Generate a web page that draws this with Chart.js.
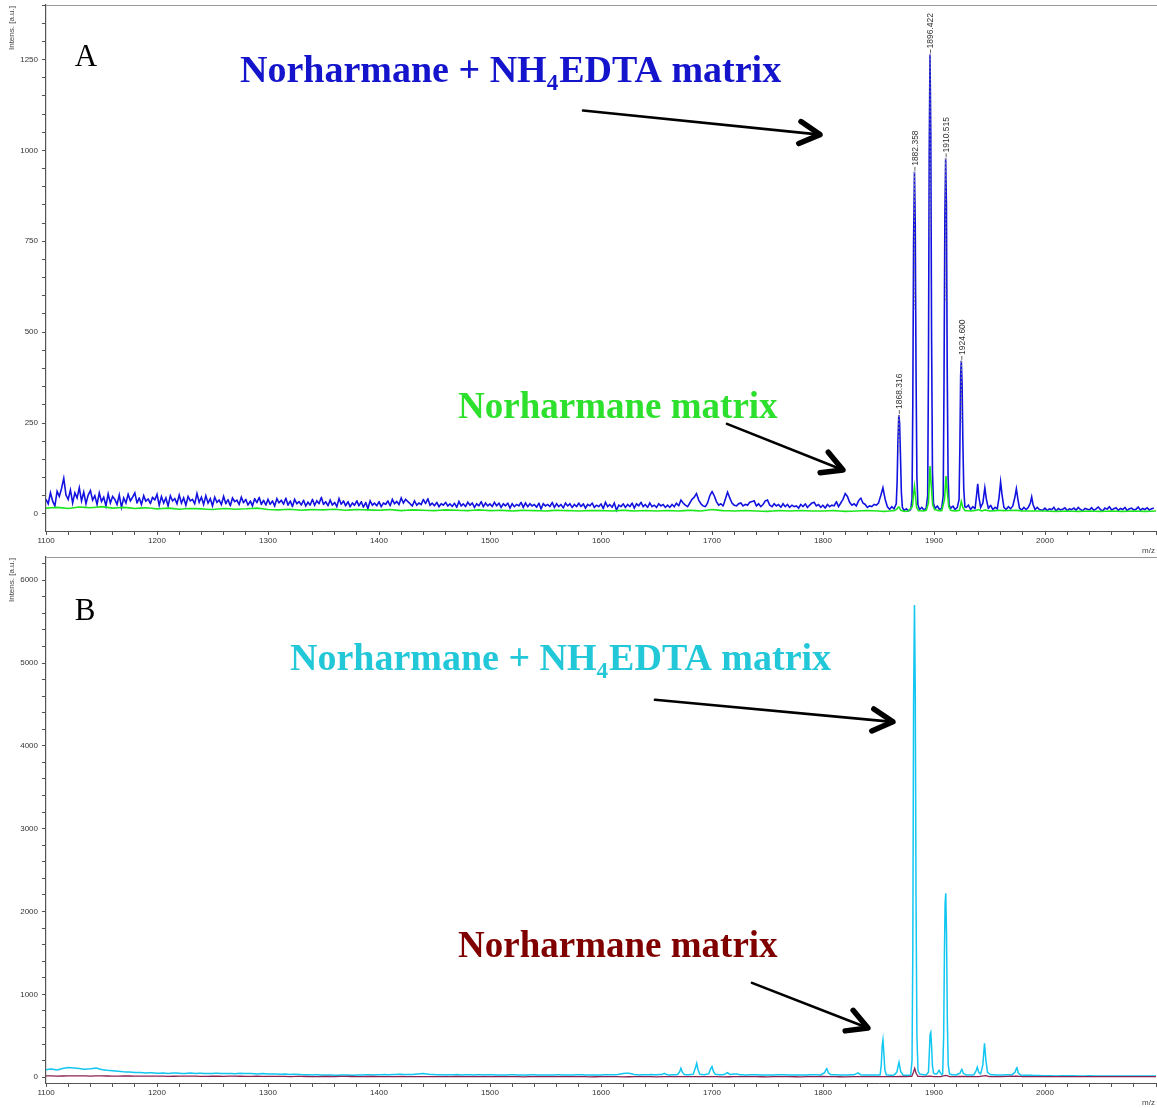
<!DOCTYPE html>
<html>
<head>
<meta charset="utf-8">
<script src="https://cdn.jsdelivr.net/npm/chart.js@4.4.1/dist/chart.umd.min.js"></script>
<style>
  html, body { margin:0; padding:0; background:#fff; }
  #wrapA { position:absolute; left:0; top:0;   width:1157px; height:555px; }
  #wrapB { position:absolute; left:0; top:555px; width:1157px; height:553px; }
</style>
</head>
<body>
<div id="wrapA"><canvas id="chartA"></canvas></div>
<div id="wrapB"><canvas id="chartB"></canvas></div>
<script>
// Espectros MALDI: panel A (norharmano + NH4EDTA vs norharmano), panel B (idem, otra muestra).
// Valores leídos a ojo del gráfico original.

// ---- Panel A, traza azul (Norharmane + NH4EDTA) ----
// línea base ruidosa 1100..1858, paso 2 (20 valores por fila = 40 m/z)
const blueBaseStart = 1100, blueBaseStep = 2;
const blueBase = [
  40,28,58,35,22,62,48,70,98,52,40,66,30,58,44,72,36,60,28,52,
  64,38,50,26,58,34,46,22,55,30,48,40,26,52,18,44,30,54,36,46,
  58,30,44,26,50,34,42,28,46,38,54,24,48,30,44,22,50,36,42,28,
  52,30,44,24,48,36,40,28,56,32,46,26,50,30,42,22,46,32,38,26,
  48,28,40,22,44,34,38,26,46,30,40,24,36,22,42,30,46,26,38,24,
  40,26,36,22,42,30,38,26,44,24,36,20,40,28,34,24,38,22,32,24,
  40,24,36,28,46,26,34,22,38,24,32,20,42,26,36,22,34,20,30,24,
  36,22,34,18,32,14,36,24,30,22,34,20,30,26,36,22,40,28,34,26,
  44,30,40,34,28,22,36,24,30,26,40,28,42,24,30,22,32,20,28,24,
  32,22,28,20,30,18,34,22,28,20,32,24,30,18,28,22,34,20,30,22,
  28,20,32,22,30,18,28,22,30,16,28,20,26,22,32,18,30,20,28,22,
  26,18,30,14,28,22,26,20,32,18,28,20,26,16,30,22,28,18,26,20,
  30,20,28,16,26,22,30,18,24,20,28,14,32,20,26,18,30,10,24,20,
  28,18,26,20,30,16,28,22,32,20,26,18,30,20,24,18,28,22,26,18,
  24,18,26,20,30,22,38,30,24,20,30,40,46,56,38,28,22,20,30,50,
  62,50,34,24,28,22,40,60,44,30,24,22,28,30,22,26,24,32,34,36,
  22,28,20,26,36,38,24,20,28,22,26,18,28,20,26,18,24,20,22,16,
  26,20,28,18,24,30,32,22,26,18,24,16,26,20,24,22,34,20,30,40,
  56,48,32,24,28,22,36,44,30,26,18,22,20,26,24,30,50,72,40,20
];
// zona de picos (m/z, intensidad)
const bluePeaks = [
  [1860,12],[1862,20],[1864,14],[1866,28],[1866.8,90],[1867.5,200],[1868.3,272],[1869,250],[1869.8,160],[1870.6,60],
  [1871.5,18],[1873,10],[1875,14],[1877,8],[1879,12],[1880.2,40],[1880.9,300],[1881.6,750],[1882.4,941],[1883.1,800],
  [1883.8,400],[1884.6,100],[1885.5,25],[1887,12],[1889,18],[1891,10],[1893,16],[1894.3,50],[1895,400],[1895.7,1000],
  [1896.4,1264],[1897.1,1050],[1897.8,500],[1898.6,120],[1899.5,30],[1901,14],[1903,22],[1905,12],[1907,16],[1908.3,50],
  [1909,350],[1909.8,820],[1910.5,978],[1911.2,850],[1911.9,400],[1912.7,100],[1913.6,25],[1915,15],[1917,22],[1919,12],
  [1921,18],[1922.6,40],[1923.3,180],[1924,380],[1924.6,421],[1925.3,360],[1926,200],[1926.8,70],[1927.8,20],[1929,18],
  [1931,24],[1933,12],[1935,20],[1937,14],[1938.3,50],[1939.4,83],[1940.5,45],[1942,18],[1944,30],[1945.8,72],
  [1947.2,40],[1949,15],[1951,24],[1953,12],[1955,18],[1957,14],[1958.6,45],[1960,88],[1961.4,50],[1963,18],
  [1965,12],[1967,20],[1969,14],[1971,22],[1972.8,45],[1974.2,69],[1975.6,40],[1977,16],[1979,10],[1981,18],
  [1983,12],[1985,18],[1986.8,30],[1988,47],[1989.2,26],[1991,12],[1993,18],[1995,12]
];
const blueTailStart = 1998, blueTailStep = 2;
const blueTail = [
  10,16,9,14,12,18,8,15,11,13,17,9,14,12,16,10,18,12,9,15,13,11,17,10,14,19,
  12,8,16,13,20,11,14,17,10,15,12,18,9,14,16,11,13,19,10,15,12,17,11,14,16
];

// ---- Panel A, traza verde (Norharmane) ----
const greenBaseStart = 1100, greenBaseStep = 10;
const greenBase = [
  16,18,15,19,17,20,16,18,15,17,
  14,16,13,15,14,12,15,13,14,16,
  12,11,13,10,12,11,13,10,12,11,
  10,12,9,11,10,9,11,10,9,11,
  9,10,8,10,9,8,10,9,8,9,
  9,8,10,8,9,8,9,8,10,8,
  12,9,8,9,8,7,9,8,9,8,
  8,9,7,8,9,8
];
const greenPeaks = [
  [1855,7],[1860,8],[1864,9],[1866,12],[1868.3,20],[1870,10],[1873,7],[1877,8],[1880.5,20],[1881.6,55],
  [1882.4,76],[1883.3,50],[1884.3,18],[1886,9],[1890,8],[1893,10],[1895,30],[1896.4,132],[1897.5,80],[1898.8,25],
  [1900.5,12],[1904,9],[1907,9],[1909.5,40],[1910.8,104],[1912,60],[1913.3,20],[1915,10],[1919,8],[1923,10],
  [1924.6,34],[1926,18],[1928,9],[1933,8],[1938,10],[1940,12],[1943,8],[1946,11],[1950,8],[1960,10],
  [1962,9],[1974,10],[1980,8],[1990,8]
];
const greenTailStart = 2000, greenTailStep = 10;
const greenTail = [8,7,8,7,8,7,8,7,8,7,8];

// etiquetas de picos (panel A)
const peakMzA     = [1868.316, 1882.358, 1896.422, 1910.515, 1924.600];
const peakHeightA = [272, 941, 1264, 978, 421];

// ---- Panel B, traza cian (Norharmane + NH4EDTA) ----
const cyanBaseStart = 1100, cyanBaseStep = 5;
const cyanBase = [
  90,100,86,104,118,112,104,96,102,110,
  92,84,78,72,66,62,58,56,52,54,
  48,50,46,52,48,44,50,46,48,44,
  46,48,44,46,42,48,44,46,40,44,
  38,40,36,38,34,36,32,30,28,30,
  26,28,24,26,28,24,26,28,30,28,
  30,32,30,34,36,32,34,40,44,36,
  32,30,28,30,32,28,30,28,30,28,
  30,28,26,28,30,28,26,28,30,26,
  28,26,30,28,26,28,30,28,26,28,
  28,30,30,32,46,48,34,28,30,32,
  30
];
const cyanPeaks = [
  [1655,34],[1657,46],[1659,32],[1662,28],[1666,30],[1669,32],[1671,70],[1672,108],[1673.3,60],[1675,32],
  [1679,30],[1683,34],[1685,110],[1686.2,168],[1687.4,90],[1689,36],[1693,30],[1697,40],[1698.7,100],[1700,128],
  [1701.3,70],[1703,34],[1707,30],[1711,32],[1713.8,56],[1716,34],[1720,38],[1722,40],[1725,30],[1730,28],
  [1740,30],[1750,26],[1760,30],[1770,28],[1780,26],[1790,30],[1798,28],[1801.5,55],[1803.3,108],[1805,50],
  [1807,30],[1815,28],[1822,28],[1828,30],[1831.5,52],[1834,30],[1840,26],[1845,28],[1849,26],[1851.5,30],
  [1852.5,150],[1853.3,380],[1854,450],[1854.8,300],[1855.7,90],[1857,30],[1860,24],[1864,26],[1866.5,60],[1868.5,180],
  [1870,70],[1872,26],[1876,24],[1879,26],[1880.2,200],[1880.9,1500],[1881.6,4500],[1882.4,5700],[1883.1,4700],[1883.8,2200],
  [1884.6,500],[1885.6,80],[1887,40],[1890,30],[1893,28],[1895,60],[1895.8,300],[1896.5,520],[1897.1,543],[1897.8,380],
  [1898.6,140],[1899.6,50],[1901,38],[1902.5,40],[1903.5,60],[1904.5,88],[1905.8,50],[1907,30],[1907.8,40],[1908.7,500],
  [1909.4,1500],[1910,2100],[1910.6,2220],[1911.3,1700],[1912,700],[1912.8,150],[1914,40],[1916,30],[1920,28],[1923.5,50],
  [1925,100],[1926.5,45],[1929,28],[1933,26],[1936,30],[1938,80],[1939,121],[1940.3,60],[1942,40],[1944,150],
  [1945.5,410],[1946.8,200],[1948.2,60],[1951,30],[1955,28],[1960,26],[1965,30],[1970,28],[1973,60],[1974.6,121],
  [1976,50],[1978,26],[1985,24],[1990,22],[1995,20]
];
const cyanTailStart = 2000, cyanTailStep = 10;
const cyanTail = [18,16,18,15,17,15,16,14,16,15,14];

// ---- Panel B, traza granate (Norharmane) ----
const maroonBaseStart = 1100, maroonBaseStep = 10;
const maroonBase = [
  16,14,15,17,14,16,13,15,14,12,
  13,11,12,14,10,12,11,13,10,12,
  9,11,8,10,7,9,8,10,7,9,
  8,6,9,7,8,6,7,9,6,8,
  7,6,8,5,7,6,8,6,7,5,
  6,7,5,6,8,5,7,6,8,6,
  7,5,6,8,6,5,7,6,5,7,
  9,6,5,7,6,8,7,9
];
const maroonPeaks = [
  [1876,8],[1880,10],[1881.5,60],[1882.6,108],[1883.8,50],[1885.5,10],[1890,8],[1896.5,14],[1900,7],[1906,8],
  [1910.8,22],[1914,8],[1920,7],[1925,10],[1930,7],[1940,8],[1946.5,18],[1950,7],[1960,8],[1974.5,12],
  [1980,7],[1990,8]
];
const maroonTailStart = 2000, maroonTailStep = 10;
const maroonTail = [7,6,8,7,6,7,8,6,7,6,7];

// ---- ejes ----
const xMin = 1100, xMax = 2100, xMinorStep = 20, xMajorStep = 100;
const yA = {min:-47, max:1400, minor:50, major:250};
const yB = {min:-70, max:6280, minor:200, major:1000};

function series(start, step, vals, peaks, tStart, tStep, tail){
  const pts = vals.map((v,i)=>({x:start+i*step, y:v}));
  peaks.forEach(p=>pts.push({x:p[0], y:p[1]}));
  tail.forEach((v,i)=>pts.push({x:tStart+i*tStep, y:v}));
  return pts;
}

function drawArrow(ctx, x1, y1, x2, y2){
  ctx.strokeStyle = '#000'; ctx.lineCap = 'round';
  ctx.lineWidth = 2.6;
  ctx.beginPath(); ctx.moveTo(x1,y1); ctx.lineTo(x2,y2); ctx.stroke();
  const a = Math.atan2(y2-y1, x2-x1), L = 23, w = 0.5;
  ctx.lineWidth = 5.5; ctx.lineJoin = 'round';
  ctx.beginPath();
  ctx.moveTo(x2-L*Math.cos(a-w), y2-L*Math.sin(a-w));
  ctx.lineTo(x2, y2);
  ctx.lineTo(x2-L*Math.cos(a+w), y2-L*Math.sin(a+w));
  ctx.stroke();
}

function drawParts(ctx, x0, y0, color, size, parts){
  ctx.fillStyle = color; ctx.textAlign = 'left'; ctx.textBaseline = 'alphabetic';
  let x = x0;
  parts.forEach(p=>{
    ctx.font = p.sub ? 'bold '+Math.round(size*0.6)+'px "Liberation Serif"' : 'bold '+size+'px "Liberation Serif"';
    ctx.fillText(p.t, x, y0 + (p.sub ? 8 : 0));
    x += ctx.measureText(p.t).width + (p.sub ? 1 : 0);
  });
}

const annotPlugin = {
  id: 'annot',
  afterDraw(chart, args, o){
    const {ctx, chartArea:ca, scales:{x, y}} = chart;
    ctx.save();
    // borde superior gris
    ctx.strokeStyle = '#9a9a9a'; ctx.lineWidth = 1.2;
    ctx.beginPath(); ctx.moveTo(ca.left, ca.top+0.5); ctx.lineTo(ca.right+1, ca.top+0.5); ctx.stroke();
    // título del eje y (arriba a la izquierda)
    ctx.save();
    ctx.translate(12, ca.top+1); ctx.rotate(-Math.PI/2);
    ctx.font = '8px "Liberation Sans"'; ctx.fillStyle = '#444';
    ctx.textAlign = 'right'; ctx.textBaseline = 'middle';
    ctx.fillText('Intens. [a.u.]', 0, 0);
    ctx.restore();
    // m/z abajo a la derecha
    ctx.font = '8px "Liberation Sans"'; ctx.fillStyle = '#444';
    ctx.textAlign = 'right'; ctx.textBaseline = 'middle';
    ctx.fillText('m/z', ca.right-1, ca.bottom+20);
    // letra del panel
    ctx.font = '31px "Liberation Serif"'; ctx.fillStyle = '#000';
    ctx.textAlign = 'left'; ctx.textBaseline = 'alphabetic';
    ctx.fillText(o.letter.t, x.getPixelForValue(o.letter.x), y.getPixelForValue(o.letter.y));
    // etiquetas de picos
    (o.peaks||[]).forEach(p=>{
      const px = x.getPixelForValue(p.mz), py = y.getPixelForValue(p.h);
      ctx.setLineDash([2,2]); ctx.strokeStyle = '#8c8c8c'; ctx.lineWidth = 1;
      ctx.beginPath(); ctx.moveTo(px, py); ctx.lineTo(px, y.getPixelForValue(p.h*0.6)); ctx.stroke();
      ctx.setLineDash([]); ctx.strokeStyle = '#666';
      ctx.beginPath(); ctx.moveTo(px+0.5, py-1); ctx.lineTo(px+0.5, py-5); ctx.stroke();
      ctx.save();
      ctx.translate(px+1, py-6); ctx.rotate(-Math.PI/2);
      ctx.font = '8.5px "Liberation Sans"'; ctx.fillStyle = '#333';
      ctx.textAlign = 'left'; ctx.textBaseline = 'middle';
      ctx.fillText(p.mz.toFixed(3), 0, 0);
      ctx.restore();
    });
    // textos
    o.texts.forEach(t=>drawParts(ctx, x.getPixelForValue(t.x), y.getPixelForValue(t.y), t.color, t.size, t.parts));
    // flechas
    o.arrows.forEach(a=>drawArrow(ctx, x.getPixelForValue(a[0]), y.getPixelForValue(a[1]),
                                       x.getPixelForValue(a[2]), y.getPixelForValue(a[3])));
    ctx.restore();
  }
};

function makeChart(id, datasets, yr, annot, padTop, xH){
  const tickFont = {family:'Liberation Sans', size:8};
  return new Chart(document.getElementById(id).getContext('2d'), {
    type:'line',
    data:{datasets},
    options:{
      responsive:true, maintainAspectRatio:false, animation:false,
      layout:{padding:{top:padTop, right:1, left:0, bottom:0}},
      // tension mínima: evita el "fast path" de Chart.js que dibuja columnas verticales en los picos
      elements:{point:{radius:0}, line:{tension:0.0001, capBezierPoints:true}},
      plugins:{legend:{display:false}, tooltip:{enabled:false}, annot},
      scales:{
        x:{type:'linear', min:xMin, max:xMax,
          afterBuildTicks:s=>{ const t=[]; for(let v=xMin; v<=xMax; v+=xMinorStep) t.push({value:v}); s.ticks=t; },
          afterFit:s=>{ s.height = xH; s.paddingLeft = 0; s.paddingRight = 0; },
          grid:{drawOnChartArea:false, drawTicks:true, tickLength:4, color:'#555'},
          border:{display:true, color:'#555', width:1},
          ticks:{autoSkip:false, maxRotation:0, padding:1, color:'#333', font:tickFont,
            callback:v=> (v % xMajorStep === 0 && v < xMax) ? String(v) : ''}
        },
        y:{type:'linear', min:yr.min, max:yr.max,
          afterBuildTicks:s=>{ const t=[]; for(let v=0; v<=yr.max; v+=yr.minor) t.push({value:v}); s.ticks=t; },
          afterFit:s=>{ s.width = 46; s.paddingTop = 0; s.paddingBottom = 0; },
          grid:{drawOnChartArea:false, drawTicks:true, tickLength:4, color:'#555'},
          border:{display:true, color:'#555', width:1.2},
          ticks:{autoSkip:false, padding:4, color:'#333', font:tickFont,
            callback:v=> (v % yr.major === 0) ? String(v) : ''}
        }
      }
    },
    plugins:[annotPlugin]
  });
}

const titleParts = [{t:'Norharmane + NH'}, {t:'4', sub:true}, {t:'EDTA matrix'}];
const plainParts = [{t:'Norharmane matrix'}];

makeChart('chartA', [
  {data:series(greenBaseStart, greenBaseStep, greenBase, greenPeaks, greenTailStart, greenTailStep, greenTail),
   borderColor:'#1ee61e', borderWidth:1.6},
  {data:series(blueBaseStart, blueBaseStep, blueBase, bluePeaks, blueTailStart, blueTailStep, blueTail),
   borderColor:'#1212e0', borderWidth:1.6}
], yA, {
  letter:{t:'A', x:1126, y:1231},
  peaks: peakMzA.map((mz,i)=>({mz, h:peakHeightA[i]})),
  texts:[
    {x:1274.8, y:1189, color:'#1414cc', size:38, parts:titleParts},
    {x:1471.2, y:264,  color:'#2ee02e', size:37, parts:plainParts}
  ],
  arrows:[[1583.8,1109.6,1797.3,1043.5],[1713.5,247.7,1818,121]]
}, 5, 24);

makeChart('chartB', [
  {data:series(maroonBaseStart, maroonBaseStep, maroonBase, maroonPeaks, maroonTailStart, maroonTailStep, maroonTail),
   borderColor:'#8b2252', borderWidth:1.3},
  {data:series(cyanBaseStart, cyanBaseStep, cyanBase, cyanPeaks, cyanTailStart, cyanTailStep, cyanTail),
   borderColor:'#12c6f2', borderWidth:1.5}
], yB, {
  letter:{t:'B', x:1126, y:5524},
  peaks: [],
  texts:[
    {x:1319.8, y:4921, color:'#22c8d8', size:38, parts:titleParts},
    {x:1471.2, y:1453, color:'#800000', size:37, parts:plainParts}
  ],
  arrows:[[1648.6,4556,1863,4290],[1736,1139,1840.5,595]]
}, 2, 25);
</script>
</body>
</html>
